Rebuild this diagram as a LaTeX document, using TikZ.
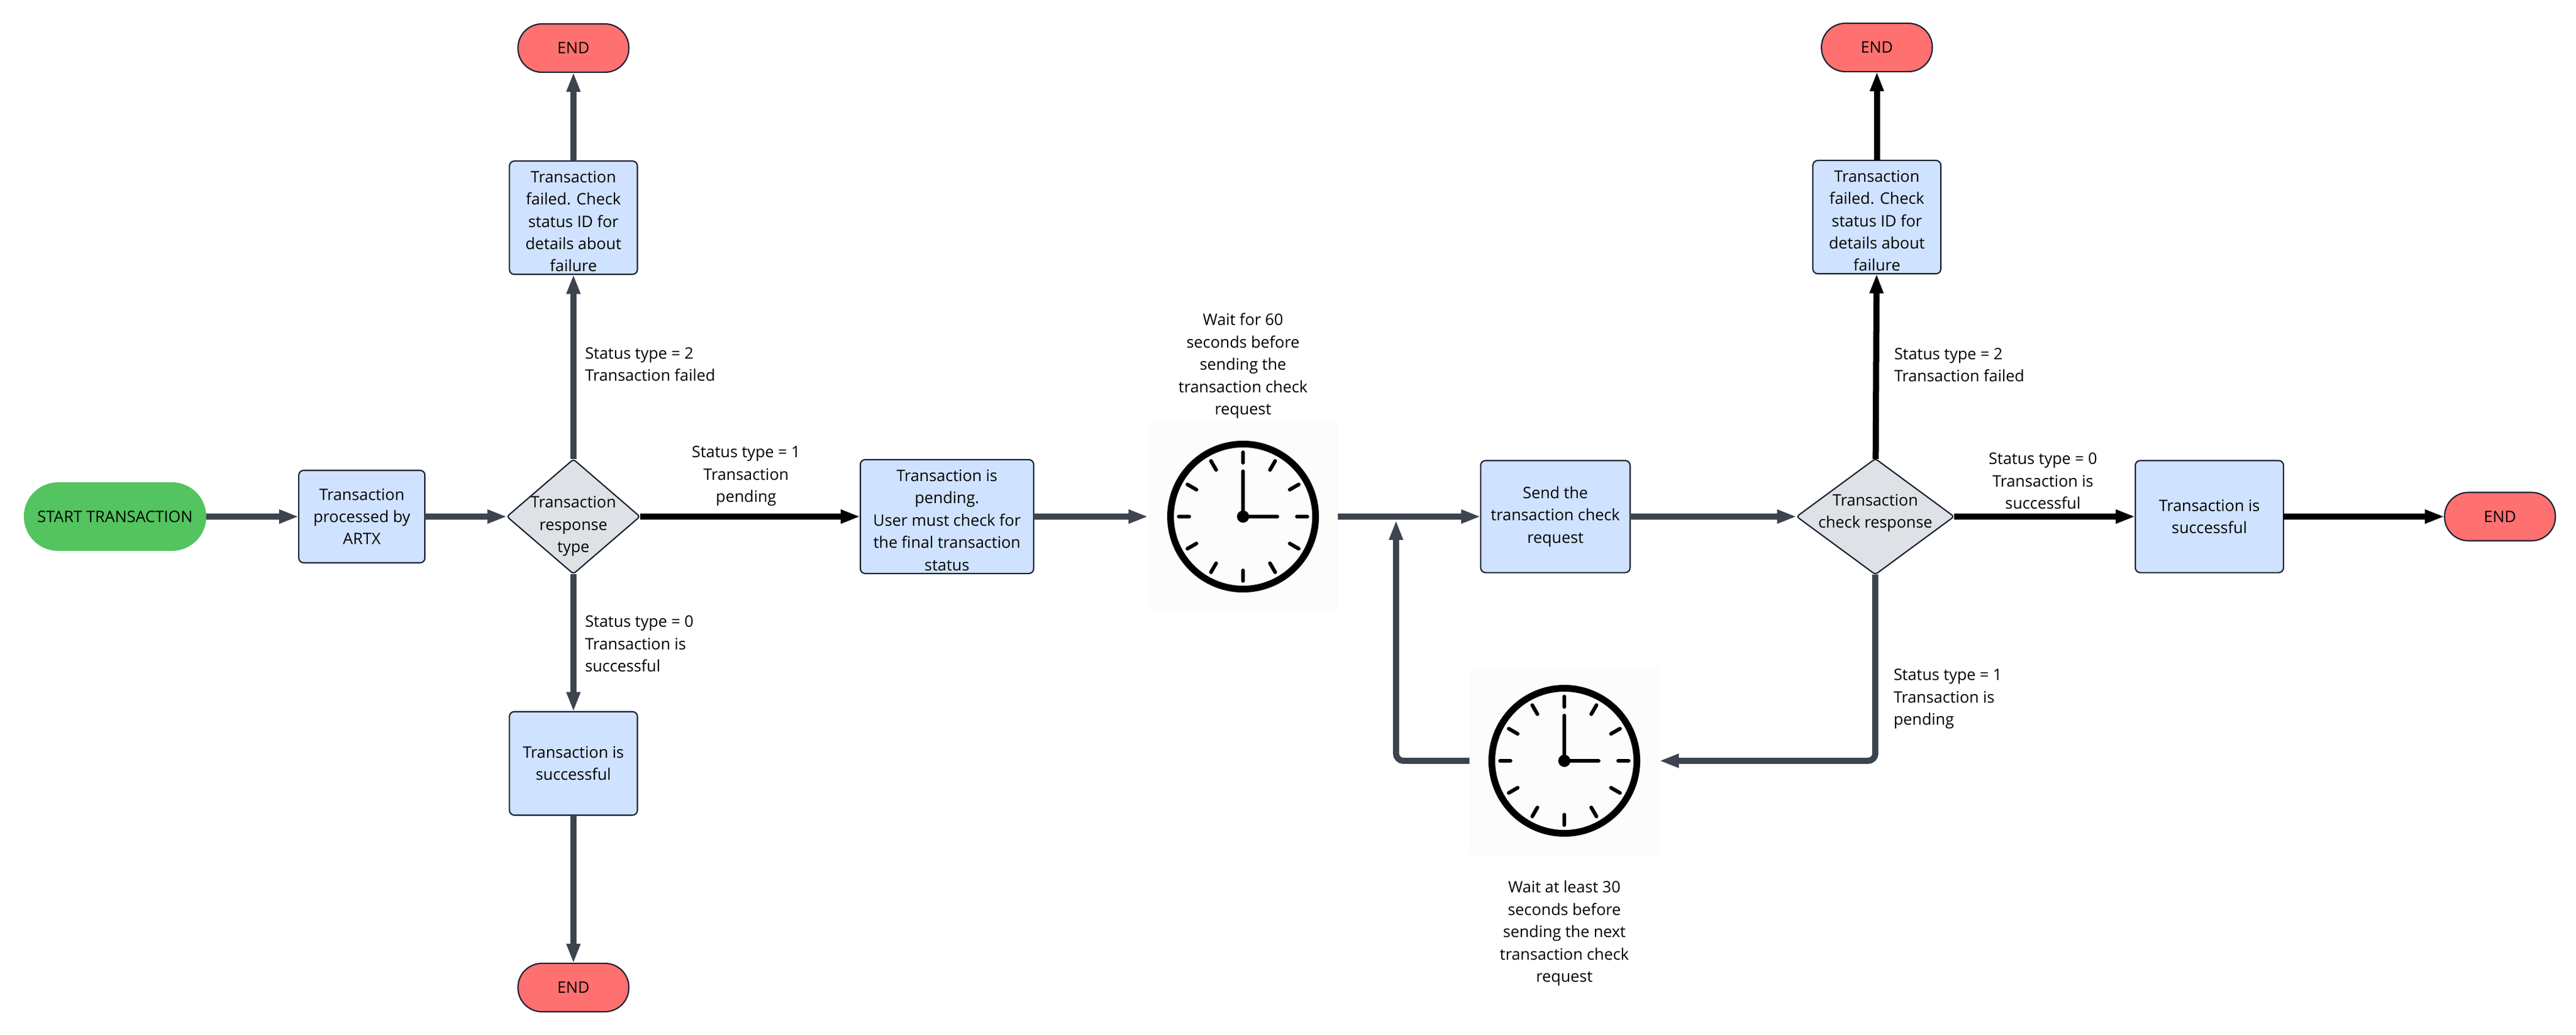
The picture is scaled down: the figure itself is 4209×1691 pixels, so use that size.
\documentclass[tikz,border=0pt]{standalone}
\usepackage{fontspec}
\setmainfont{Open Sans}
\usetikzlibrary{arrows.meta, positioning, shapes.geometric}

\definecolor{boxblue}{HTML}{CFE2FF}
\definecolor{diamgrey}{HTML}{DEE1E6}
\definecolor{startgreen}{HTML}{53C45F}
\definecolor{endred}{HTML}{FF7070}
\definecolor{flowgrey}{HTML}{3D444F}
\definecolor{edgeink}{HTML}{1A2030}
\definecolor{waitbg}{HTML}{FCFCFC}

\tikzset{
    every node/.style={outer sep=0pt, inner sep=0pt, font=\fontsize{7.35}{10.36}\selectfont, align=center},
    procbox/.style={draw=edgeink, line width=0.6pt, fill=boxblue, rounded corners=0.08cm},
    decision/.style={diamond, draw=edgeink, line width=0.6pt, fill=diamgrey, rounded corners=0.04cm, minimum width=#1},
    pill/.style={draw=edgeink, line width=0.6pt, fill=endred, rounded corners=0.39cm, minimum width=1.81cm, minimum height=0.79cm},
    waitbox/.style={fill=waitbg, rounded corners=0.1cm, minimum width=3.1cm, minimum height=3.1cm},
    flow/.style={-{Triangle[length=0.32cm, width=0.21cm]}, line width=0.1cm, color=flowgrey},
    flowblack/.style={flow, color=black},
    clockface/.pic={
        \draw[line width=0.11cm] (0,0) circle (118.5);
        \foreach \a in {0,30,...,330}
            \draw[line width=0.06cm, line cap=round] (\a:88) -- (\a:105);
        \draw[line width=0.06cm, line cap=round] (0,0) -- (0,-74);
        \draw[line width=0.06cm, line cap=round] (0,0) -- (56,0);
        \fill (0,0) circle (10);
    }
}

\begin{document}
\begin{tikzpicture}[x=0.01cm, y=-0.01cm]
    \useasboundingbox (0,0) rectangle (4209,1691);

    \node[fill=startgreen, rounded corners=0.56cm, minimum width=2.98cm, minimum height=1.12cm] (start) at (188,844) {START TRANSACTION};
    \node[procbox, minimum width=2.06cm, minimum height=1.51cm] (proc_a) [right=1.51cm of start] {Transaction\\processed by\\ARTX};
    \node[decision=2.17cm, minimum height=1.87cm] (diam_a) [right=1.34cm of proc_a] {};
    \node[yshift=-0.16cm] (diam_a_text) at (diam_a) {Transaction\\response\\type};

    \node[procbox, minimum width=2.09cm, minimum height=1.85cm] (fail_a) [above=3.02cm of diam_a] {};
    \node[yshift=-0.06cm] (fail_a_text) at (fail_a) {Transaction\\failed. Check\\status ID for\\details about\\failure};
    \node[pill] (end_a) [above=1.45cm of fail_a] {END};
    \node[procbox, minimum width=2.09cm, minimum height=1.69cm] (succ_a) [below=2.25cm of diam_a] {Transaction is\\successful};
    \node[pill] (end_b) [below=2.42cm of succ_a] {END};

    \node[procbox, minimum width=2.83cm, minimum height=1.86cm] (pend) [right=3.6cm of diam_a] {};
    \node[yshift=-0.06cm] (pend_text) at (pend) {Transaction is\\pending.\\User must check for\\the final transaction\\status};
    \node[waitbox] (clock_a) [right=1.87cm of pend] {};
    \pic (face_a) at (clock_a) {clockface};
    \node[procbox, minimum width=2.44cm, minimum height=1.83cm] (send) [right=2.33cm of clock_a] {Send the\\transaction check\\request};

    \node[decision=2.57cm, minimum height=1.89cm] (diam_b) [right=2.72cm of send] {};
    \node[yshift=0.06cm] (diam_b_text) at (diam_b) {Transaction\\check response};
    \node[procbox, minimum width=2.09cm, minimum height=1.85cm, xshift=0.025cm] (fail_b) [above=3.02cm of diam_b] {};
    \node[yshift=-0.06cm] (fail_b_text) at (fail_b) {Transaction\\failed. Check\\status ID for\\details about\\failure};
    \node[pill] (end_c) [above=1.45cm of fail_b] {END};
    \node[procbox, minimum width=2.42cm, minimum height=1.83cm] (succ_b) [right=2.96cm of diam_b] {Transaction is\\successful};
    \node[pill] (end_d) [right=2.63cm of succ_b] {END};

    \node[waitbox] (clock_b) at (2556,1243) {};
    \pic (face_b) at (clock_b) {clockface};
    \coordinate (join_a) at (2281,850);

    % status labels and wait notes
    \node[anchor=west, align=left] (note_a2) at (956,595) {Status type = 2\\Transaction failed};
    \node[anchor=west, align=left] (note_a0) at (956,1052) {Status type = 0\\Transaction is\\successful};
    \node (note_a1) at (1219,778) {Status type = 1\\Transaction\\pending};
    \node[anchor=west, align=left] (note_b2) at (3095,596) {Status type = 2\\Transaction failed};
    \node[anchor=west, align=left] (note_b1) at (3094,1142) {Status type = 1\\Transaction is\\pending};
    \node (note_b0) at (3338,786) {Status type = 0\\Transaction is\\successful};
    \node (wait_a) at (2031,598) {Wait for 60\\seconds before\\sending the\\transaction check\\request};
    \node (wait_b) at (2556,1525) {Wait at least 30\\seconds before\\sending the next\\transaction check\\request};

    \draw[flow] (start) -- (proc_a);
    \draw[flow] (proc_a) -- (diam_a);
    \draw[flow] (diam_a) -- (fail_a);
    \draw[flow] (fail_a) -- (end_a);
    \draw[flow] (diam_a) -- (succ_a);
    \draw[flow] (succ_a) -- (end_b);
    \draw[flowblack] (diam_a) -- (pend);
    \draw[flow] (pend) -- (clock_a);
    \draw[flow] (clock_a) -- (send);
    \draw[flow] (send) -- (diam_b);
    \draw[flowblack] (diam_b) -- (fail_b);
    \draw[flowblack] (fail_b) -- (end_c);
    \draw[flowblack] (diam_b) -- (succ_b);
    \draw[flowblack] (succ_b) -- (end_d);
    \draw[flow, rounded corners=0.12cm] (diam_b) |- (clock_b);
    \draw[flow, rounded corners=0.12cm] (clock_b) -| (join_a);
\end{tikzpicture}
\end{document}
